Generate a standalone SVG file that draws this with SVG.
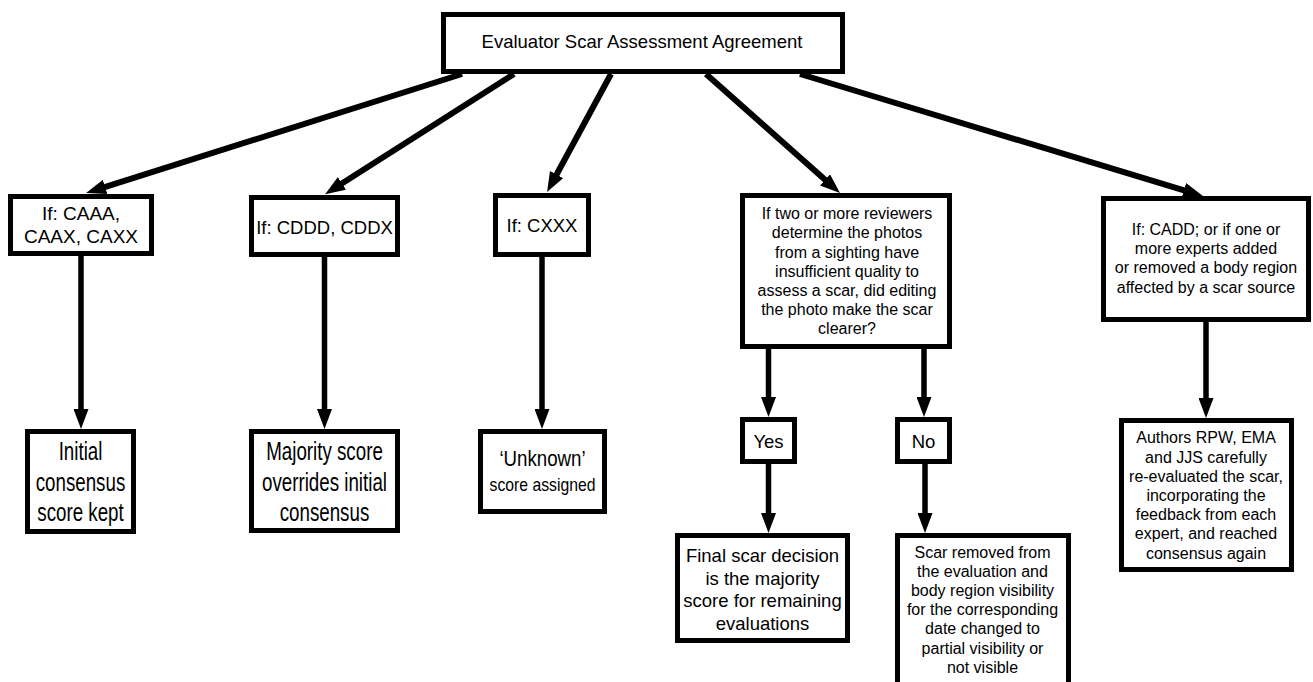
<svg xmlns="http://www.w3.org/2000/svg" width="1313" height="682" viewBox="0 0 1313 682">
<style>
.box{fill:#fff;stroke:#000;stroke-width:5}
.con{stroke:#000;stroke-width:6;fill:none}
.vcon{stroke:#000;stroke-width:5.5;fill:none}
text{font-family:"Liberation Sans",Arial,Helvetica,sans-serif;fill:#000;text-anchor:middle}
.t185{font-size:18.5px}
.t16{font-size:16px}
.t25{font-size:25px}
</style>
<defs>
<marker id="ad" markerUnits="userSpaceOnUse" markerWidth="20" markerHeight="15" refX="8" refY="7.5" orient="auto"><path d="M0,0 L20,7.5 L0,15 z" fill="#000"/></marker>
<marker id="av" markerUnits="userSpaceOnUse" markerWidth="20" markerHeight="15" refX="8" refY="7.5" orient="auto"><path d="M0,0 L20,7.5 L0,15 z" fill="#000"/></marker>
</defs>
<rect width="1313" height="682" fill="#fff"/>
<g id="n-top"><rect class="box" x="443.5" y="14.5" width="399" height="57"/><text class="t185" x="642" y="48">Evaluator Scar Assessment Agreement</text></g>
<g id="n-caaa"><rect class="box" x="10.5" y="196.5" width="141" height="57"/><text x="81" y="220" style="font-size:19px">If: CAAA,</text><text x="81" y="243" style="font-size:19px">CAAX, CAXX</text></g>
<g id="n-cddd"><rect class="box" x="251.5" y="197.5" width="146" height="57"/><text class="t185" x="324.5" y="233.5">If: CDDD, CDDX</text></g>
<g id="n-cxxx"><rect class="box" x="495.5" y="195.5" width="93" height="59"/><text class="t185" x="542" y="231.5">If: CXXX</text></g>
<g id="n-question"><rect class="box" x="742.5" y="195.5" width="207" height="151"/>
<text class="t16" x="847" y="219">If two or more reviewers</text>
<text class="t16" x="847" y="238">determine the photos</text>
<text class="t16" x="847" y="258">from a sighting have</text>
<text class="t16" x="847" y="277">insufficient quality to</text>
<text class="t16" x="847" y="296">assess a scar, did editing</text>
<text class="t16" x="847" y="315">the photo make the scar</text>
<text class="t16" x="847" y="334">clearer?</text></g>
<g id="n-cadd"><rect class="box" x="1103.5" y="198.5" width="205" height="121"/>
<text class="t16" x="1206" y="235">If: CADD; or if one or</text>
<text class="t16" x="1206" y="254">more experts added</text>
<text class="t16" x="1206" y="273">or removed a body region</text>
<text class="t16" x="1206" y="293">affected by a scar source</text></g>
<g id="n-initial"><rect class="box" x="27.5" y="431.5" width="106" height="100"/>
<g transform="translate(80.5,0) scale(0.75,1)"><text class="t25" x="0" y="460">Initial</text><text class="t25" x="0" y="491">consensus</text><text class="t25" x="0" y="521">score kept</text></g></g>
<g id="n-majority"><rect class="box" x="251.5" y="431.5" width="146" height="99"/>
<g transform="translate(324.5,0) scale(0.75,1)"><text class="t25" x="0" y="460">Majority score</text><text class="t25" x="0" y="491">overrides initial</text><text class="t25" x="0" y="521">consensus</text></g></g>
<g id="n-unknown"><rect class="box" x="480.5" y="431.5" width="124" height="80"/>
<g transform="translate(542.5,0) scale(0.85,1)"><text x="0" y="466" style="font-size:22px">‘Unknown’</text></g>
<g transform="translate(542.5,0) scale(0.83,1)"><text x="0" y="491" style="font-size:19px">score assigned</text></g></g>
<g id="n-yes"><rect class="box" x="742.5" y="419.5" width="52" height="42"/><text class="t185" x="768.5" y="448">Yes</text></g>
<g id="n-no"><rect class="box" x="897.5" y="419.5" width="52" height="42"/><text class="t185" x="923.5" y="448">No</text></g>
<g id="n-final"><rect class="box" x="677.5" y="535.5" width="170" height="105"/>
<text class="t185" x="762.5" y="561.5">Final scar decision</text>
<text class="t185" x="762.5" y="584.5">is the majority</text>
<text class="t185" x="762.5" y="606.5">score for remaining</text>
<text class="t185" x="762.5" y="629.5">evaluations</text></g>
<g id="n-removed"><rect class="box" x="897.5" y="535.5" width="171" height="160"/>
<text class="t16" x="982.5" y="558">Scar removed from</text>
<text class="t16" x="982.5" y="577">the evaluation and</text>
<text class="t16" x="982.5" y="596">body region visibility</text>
<text class="t16" x="982.5" y="615">for the corresponding</text>
<text class="t16" x="982.5" y="634">date changed to</text>
<text class="t16" x="982.5" y="654">partial visibility or</text>
<text class="t16" x="982.5" y="673">not visible</text></g>
<g id="n-authors"><rect class="box" x="1121.5" y="420.5" width="170" height="149"/>
<text class="t16" x="1206" y="443">Authors RPW, EMA</text>
<text class="t16" x="1206" y="463">and JJS carefully</text>
<text class="t16" x="1206" y="482">re-evaluated the scar,</text>
<text class="t16" x="1206" y="501">incorporating the</text>
<text class="t16" x="1206" y="520">feedback from each</text>
<text class="t16" x="1206" y="539">expert, and reached</text>
<text class="t16" x="1206" y="559">consensus again</text></g>
<g id="connectors">
<line class="con" x1="462" y1="74" x2="97.5" y2="189.4" marker-end="url(#ad)"/>
<line class="con" x1="514" y1="74" x2="335.2" y2="187.7" marker-end="url(#ad)"/>
<line class="con" x1="611" y1="74" x2="552.8" y2="181.5" marker-end="url(#ad)"/>
<line class="con" x1="706" y1="74" x2="831" y2="185.1" marker-end="url(#ad)"/>
<line class="con" x1="800" y1="74" x2="1191.5" y2="192.6" marker-end="url(#ad)"/>
<line class="vcon" x1="81" y1="256" x2="81" y2="417" marker-end="url(#av)"/>
<line class="vcon" x1="324.5" y1="257" x2="324.5" y2="417" marker-end="url(#av)"/>
<line class="vcon" x1="542" y1="257" x2="542" y2="417" marker-end="url(#av)"/>
<line class="vcon" x1="768.5" y1="349" x2="768.5" y2="405" marker-end="url(#av)"/>
<line class="vcon" x1="924" y1="349" x2="924" y2="405" marker-end="url(#av)"/>
<line class="vcon" x1="768.5" y1="464" x2="768.5" y2="521" marker-end="url(#av)"/>
<line class="vcon" x1="925" y1="464" x2="925" y2="521" marker-end="url(#av)"/>
<line class="vcon" x1="1206" y1="322" x2="1206" y2="406" marker-end="url(#av)"/>
</g>
</svg>
